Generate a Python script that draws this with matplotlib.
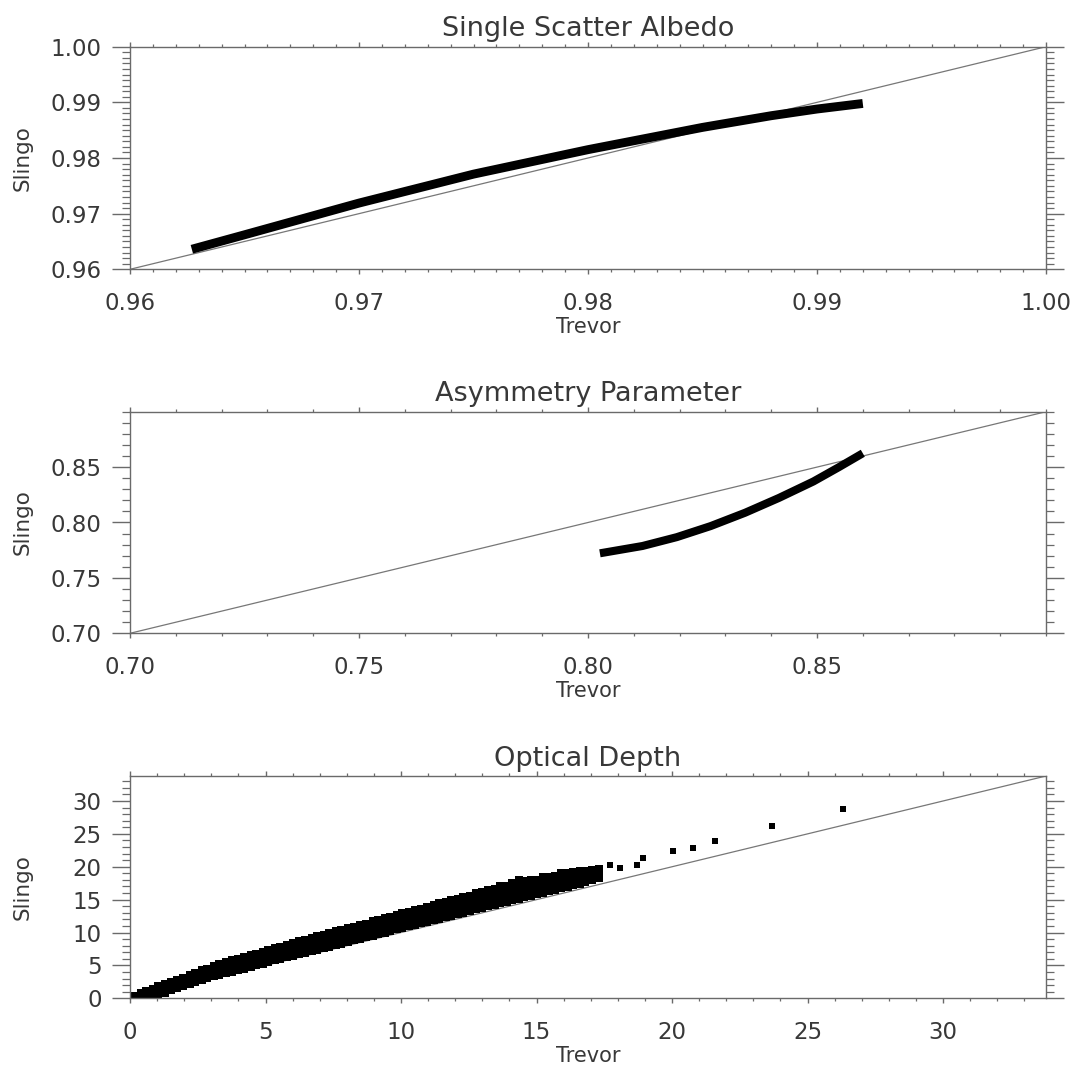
import matplotlib
matplotlib.use("Agg")
import matplotlib.pyplot as plt
from matplotlib.ticker import FixedLocator, MultipleLocator, FormatStrFormatter

# ---------------- data ----------------
# Panel 1: single scatter albedo
ssa_trevor = [0.9627, 0.9650, 0.9700, 0.9750, 0.9800, 0.9850, 0.9880, 0.9900, 0.9920]
ssa_slingo = [0.9636, 0.9662, 0.9719, 0.9771, 0.9815, 0.9855, 0.9876, 0.9888, 0.9898]
ssa_ticks = [0.96, 0.97, 0.98, 0.99, 1.00]
ssa_range = [0.96, 1.00]

# Panel 2: asymmetry parameter
asym_trevor = [0.8026, 0.8119, 0.8194, 0.8268, 0.8343, 0.8417, 0.8492, 0.8548, 0.8600]
asym_slingo = [0.7722, 0.7788, 0.7868, 0.7968, 0.8088, 0.8222, 0.8370, 0.8500, 0.8625]
asym_ticks = [0.70, 0.75, 0.80, 0.85]
asym_range = [0.70, 0.90]

# Panel 3: optical depth (dense cloud of points read as four rows of the band)
od_trevor = [0.15, 0.40, 0.60, 0.85, 1.05, 1.30, 1.50, 1.75, 1.95, 2.20, 2.40, 2.65, 2.85,
             3.10, 3.30, 3.55, 3.75, 4.00, 4.20, 4.45, 4.65, 4.90, 5.10, 5.35, 5.55, 5.80,
             6.00, 6.25, 6.45, 6.70, 6.90, 7.15, 7.35, 7.60, 7.80, 8.05, 8.25, 8.50, 8.70,
             8.95, 9.15, 9.40, 9.60, 9.85, 10.05, 10.30, 10.50, 10.75, 10.95, 11.20, 11.40,
             11.65, 11.85, 12.10, 12.30, 12.55, 12.75, 13.00, 13.20, 13.45, 13.65, 13.90,
             14.10, 14.35, 14.55, 14.80, 15.00, 15.25, 15.45, 15.70, 15.90, 16.15, 16.35,
             16.60, 16.80, 17.05, 17.30]
od_slingo_low = [0.02, 0.08, 0.15, 0.25, 0.43, 0.85, 1.20, 1.60, 1.90, 2.25, 2.50, 2.80, 3.05,
                 3.35, 3.58, 3.85, 4.05, 4.32, 4.53, 4.80, 5.01, 5.28, 5.50, 5.75, 5.97, 6.22,
                 6.44, 6.69, 6.90, 7.16, 7.38, 7.63, 7.85, 8.10, 8.32, 8.57, 8.79, 9.05, 9.26,
                 9.53, 9.73, 10.00, 10.20, 10.47, 10.67, 10.94, 11.15, 11.41, 11.63, 11.88, 12.10,
                 12.35, 12.57, 12.82, 13.04, 13.29, 13.51, 13.76, 13.98, 14.23, 14.45, 14.70,
                 14.90, 15.17, 15.37, 15.62, 15.82, 16.07, 16.27, 16.50, 16.70, 16.95, 17.17,
                 17.44, 17.68, 18.00, 18.35]
od_slingo_2 = [0.12, 0.35, 0.55, 0.83, 1.07, 1.38, 1.62, 1.93, 2.17, 2.48, 2.75, 3.07, 3.33,
               3.65, 3.90, 4.20, 4.43, 4.70, 4.92, 5.20, 5.41, 5.68, 5.90, 6.17, 6.39, 6.66,
               6.88, 7.15, 7.37, 7.64, 7.85, 8.12, 8.33, 8.60, 8.82, 9.09, 9.31, 9.58, 9.80,
               10.07, 10.29, 10.56, 10.78, 11.05, 11.27, 11.54, 11.76, 12.03, 12.25, 12.52, 12.74,
               13.01, 13.23, 13.50, 13.72, 13.99, 14.21, 14.48, 14.70, 14.97, 15.19, 15.45,
               15.66, 15.93, 16.13, 16.38, 16.56, 16.80, 17.00, 17.22, 17.40, 17.63, 17.81,
               18.05, 18.25, 18.50, 18.80]
od_slingo_3 = [0.25, 0.55, 0.82, 1.15, 1.43, 1.78, 2.05, 2.37, 2.65, 2.98, 3.25, 3.60, 3.87,
               4.20, 4.45, 4.75, 5.00, 5.28, 5.50, 5.78, 6.01, 6.30, 6.52, 6.80, 7.03, 7.30,
               7.52, 7.80, 8.03, 8.30, 8.52, 8.80, 9.03, 9.30, 9.52, 9.80, 10.03, 10.30, 10.52,
               10.80, 11.03, 11.30, 11.52, 11.80, 12.03, 12.30, 12.52, 12.80, 13.03, 13.30, 13.52,
               13.80, 14.03, 14.30, 14.52, 14.80, 15.03, 15.30, 15.52, 15.80, 16.03, 16.30,
               16.52, 16.80, 17.00, 17.22, 17.40, 17.63, 17.80, 18.00, 18.18, 18.40, 18.55,
               18.70, 18.85, 19.05, 19.25]
od_slingo_high = [0.38, 0.75, 1.08, 1.47, 1.80, 2.20, 2.50, 2.85, 3.15, 3.55, 3.85, 4.23, 4.53,
                  4.90, 5.20, 5.50, 5.75, 6.02, 6.28, 6.57, 6.80, 7.10, 7.35, 7.63, 7.85, 8.15,
                  8.38, 8.65, 8.90, 9.18, 9.40, 9.67, 9.90, 10.18, 10.40, 10.67, 10.91, 11.20, 11.36,
                  11.70, 11.87, 12.20, 12.36, 12.70, 12.95, 13.12, 13.42, 13.63, 13.93, 14.15, 14.45,
                  14.63, 14.93, 15.12, 15.42, 15.60, 15.95, 16.10, 16.45, 16.60, 17.00, 17.10,
                  17.55, 17.95, 17.85, 17.95, 18.05, 18.50, 18.45, 18.65, 19.00, 19.10, 19.20,
                  19.30, 19.42, 19.55, 19.65]
od_iso_trevor = [17.71, 18.08, 18.70, 18.94, 20.05, 20.79, 21.59, 23.68, 26.31]
od_iso_slingo = [20.34, 19.84, 20.34, 21.36, 22.37, 22.89, 23.90, 26.19, 28.84]
od_ticks = [0, 5, 10, 15, 20, 25, 30]
od_range = [0.0, 33.8]

# ---------------- figure ----------------
plt.rcParams['font.family'] = ['DejaVu Sans']
W, H = 1076, 1069
fig = plt.figure(figsize=(W / 100, H / 100), dpi=100)
fig.patch.set_facecolor('white')

AX_COL = '#6a6a6a'
TXT_COL = '#383838'

left_px, right_px = 130, 1046
panels = [(46.7, 269.3), (411.7, 633.3), (776.0, 998.3)]


def make_ax(top, bottom):
    return fig.add_axes([left_px / W, 1 - bottom / H,
                         (right_px - left_px) / W, (bottom - top) / H])


def style(ax, rng, ticks, minor, fmt, title):
    ax.set_xlim(rng)
    ax.set_ylim(rng)
    for axis in (ax.xaxis, ax.yaxis):
        axis.set_major_locator(FixedLocator(ticks))
        axis.set_minor_locator(MultipleLocator(minor))
        axis.set_major_formatter(FormatStrFormatter(fmt))
    for s in ax.spines.values():
        s.set_color(AX_COL)
        s.set_linewidth(1.0)
    ax.tick_params(axis='x', which='both', direction='out', top=True, bottom=True,
                   colors=AX_COL, labelcolor=TXT_COL, labelsize=16.5, pad=13)
    ax.tick_params(axis='x', which='major', length=3.5, width=1.0)
    ax.tick_params(axis='x', which='minor', length=2.2, width=0.9)
    ax.tick_params(axis='y', which='both', direction='out', left=True, right=True,
                   colors=AX_COL, labelcolor=TXT_COL, labelsize=16.5, pad=7.5)
    ax.tick_params(axis='y', which='major', length=13, width=1.0)
    ax.tick_params(axis='y', which='minor', length=6, width=0.9)
    ax.set_title(title, fontsize=19.5, color=TXT_COL, y=1.0, pad=7.5)


def labels(top, bottom):
    fig.text(588 / W, 1 - (bottom + 57.5) / H, 'Trevor', ha='center', va='center',
             fontsize=15, color=TXT_COL)
    fig.text(22.4 / W, 1 - (top + bottom) / 2 / H, 'Slingo', ha='center', va='center',
             rotation=90, fontsize=15.5, color=TXT_COL)


# Panel 1
ax1 = make_ax(*panels[0])
ax1.plot(ssa_range, ssa_range, color='#777777', lw=0.9)
ax1.plot(ssa_trevor, ssa_slingo, color='black', lw=6.4, solid_capstyle='butt',
         solid_joinstyle='round')
style(ax1, ssa_range, ssa_ticks, 0.001, '%.2f', 'Single Scatter Albedo')
labels(*panels[0])

# Panel 2
ax2 = make_ax(*panels[1])
ax2.plot(asym_range, asym_range, color='#777777', lw=0.9)
ax2.plot(asym_trevor, asym_slingo, color='black', lw=5.8, solid_capstyle='butt',
         solid_joinstyle='round')
style(ax2, asym_range, asym_ticks, 0.01, '%.2f', 'Asymmetry Parameter')
labels(*panels[1])

# Panel 3
ax3 = make_ax(*panels[2])
ax3.plot(od_range, od_range, color='#777777', lw=0.9)
for ys in (od_slingo_low, od_slingo_2, od_slingo_3, od_slingo_high):
    ax3.plot(od_trevor, ys, linestyle='none', marker='s', markersize=5.6,
             color='black', markeredgewidth=0)
ax3.plot(od_iso_trevor, od_iso_slingo, linestyle='none', marker='s', markersize=4.0,
         color='black', markeredgewidth=0)
style(ax3, od_range, od_ticks, 1, '%d', 'Optical Depth')
labels(*panels[2])

fig.savefig('out.png', dpi=100, facecolor='white')
